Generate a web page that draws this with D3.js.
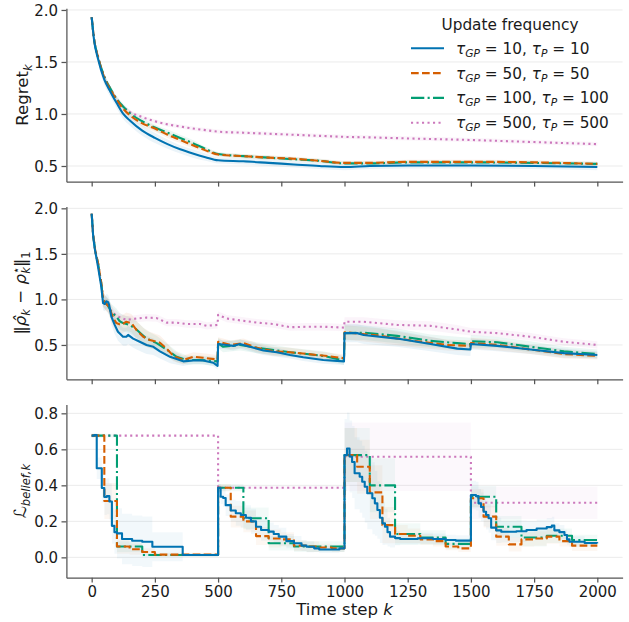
<!DOCTYPE html>
<html><head><meta charset="utf-8">
<script src="https://cdn.jsdelivr.net/npm/d3@7"></script>
<style>
body{margin:0;background:#fff}
svg{display:block}
text{font-family:"DejaVu Sans",sans-serif}
</style></head>
<body><svg id="c" width="629" height="622"></svg>
<script>
// ---------------- DATA ----------------
const xTicks = [0, 250, 500, 750, 1000, 1250, 1500, 1750, 2000];
const yTicksTop = [0.5, 1.0, 1.5, 2.0];
const yTicksMid = [0.5, 1.0, 1.5, 2.0];
const yTicksBottom = [0.0, 0.2, 0.4, 0.6, 0.8];
const seriesNames = ["10", "50", "100", "500"];

// Panel 1: regret
const regretK = [0,10,25,50,75,100,125,150,200,250,300,350,400,450,500,600,700,800,900,1000,1100,1250,1500,1750,2000];
const regret10  = [1.93,1.70,1.53,1.33,1.21,1.10,1.00,0.94,0.84,0.77,0.71,0.66,0.62,0.585,0.555,0.545,0.53,0.515,0.50,0.49,0.50,0.505,0.505,0.50,0.49];
const regret50  = [1.93,1.71,1.55,1.35,1.23,1.13,1.05,0.99,0.91,0.86,0.80,0.75,0.70,0.65,0.61,0.595,0.58,0.57,0.55,0.53,0.53,0.54,0.54,0.535,0.52];
const regret100 = [1.93,1.71,1.55,1.36,1.24,1.14,1.07,1.01,0.93,0.87,0.82,0.77,0.72,0.665,0.615,0.595,0.58,0.565,0.55,0.525,0.525,0.535,0.535,0.53,0.52];
const regret500 = [1.93,1.71,1.55,1.36,1.24,1.14,1.07,1.02,0.97,0.93,0.90,0.88,0.86,0.845,0.83,0.82,0.81,0.80,0.79,0.78,0.775,0.765,0.75,0.73,0.71];
const regretSd10  = [0.01,0.03,0.04,0.05,0.05,0.05,0.05,0.05,0.05,0.05,0.045,0.04,0.04,0.035,0.03,0.03,0.03,0.03,0.03,0.03,0.03,0.03,0.03,0.03,0.03];
const regretSd50  = [0.01,0.02,0.03,0.03,0.03,0.03,0.03,0.03,0.03,0.03,0.03,0.03,0.03,0.02,0.02,0.02,0.02,0.02,0.02,0.02,0.02,0.02,0.02,0.02,0.02];
const regretSd100 = [0.01,0.02,0.03,0.03,0.03,0.03,0.03,0.03,0.03,0.03,0.03,0.03,0.03,0.02,0.02,0.02,0.02,0.02,0.02,0.02,0.02,0.02,0.02,0.02,0.02];
const regretSd500 = [0.01,0.02,0.02,0.02,0.02,0.02,0.02,0.02,0.02,0.02,0.02,0.02,0.02,0.02,0.02,0.02,0.02,0.02,0.02,0.02,0.02,0.02,0.02,0.02,0.02];

// Panel 2: ||rho_hat - rho*||_1   [k, value, band half-width]
const rho10 = [[0,1.94,.02],[6,1.69,.04],[12,1.56,.05],[25,1.36,.06],[38,1.14,.07],[45,0.96,.08],[52,0.95,.08],[58,0.98,.08],[65,0.97,.08],[69,0.94,.08],[78,0.81,.09],[91,0.72,.1],[104,0.645,.1],[124,0.59,.1],[137,0.59,.1],[144,0.61,.1],[164,0.57,.1],[190,0.535,.1],[217,0.50,.1],[244,0.48,.09],[270,0.43,.08],[310,0.37,.07],[362,0.32,.05],[402,0.33,.04],[441,0.33,.04],[481,0.305,.04],[498,0.27,.04],[500,0.51,.05],[534,0.50,.05],[560,0.49,.05],[587,0.51,.05],[626,0.48,.05],[679,0.44,.05],[732,0.42,.05],[785,0.39,.04],[837,0.365,.04],[916,0.335,.04],[998,0.32,.04],[1000,0.63,.1],[1050,0.63,.1],[1076,0.61,.1],[1208,0.57,.09],[1340,0.51,.08],[1446,0.46,.07],[1498,0.45,.07],[1500,0.51,.06],[1604,0.49,.06],[1736,0.45,.05],[1868,0.41,.05],[2000,0.39,.04]];
const rho50 = [[0,1.94,.02],[6,1.70,.04],[15,1.52,.05],[25,1.40,.06],[38,1.18,.07],[45,1.0,.08],[55,0.96,.08],[65,0.93,.08],[78,0.85,.09],[88,0.78,.09],[98,0.74,.1],[117,0.72,.1],[137,0.755,.1],[157,0.74,.1],[177,0.665,.1],[204,0.59,.1],[230,0.555,.09],[270,0.525,.08],[296,0.46,.07],[323,0.38,.06],[362,0.335,.05],[402,0.37,.05],[441,0.36,.05],[498,0.34,.05],[500,0.535,.05],[550,0.50,.05],[600,0.52,.05],[653,0.47,.05],[719,0.43,.05],[785,0.42,.05],[890,0.39,.04],[943,0.375,.04],[998,0.355,.04],[1000,0.64,.08],[1142,0.60,.08],[1274,0.545,.07],[1406,0.50,.06],[1498,0.49,.06],[1500,0.52,.06],[1604,0.50,.06],[1736,0.45,.05],[1868,0.40,.05],[2000,0.38,.04]];
const rho100 = [[0,1.94,.02],[6,1.70,.04],[15,1.52,.05],[25,1.40,.06],[38,1.18,.07],[45,1.0,.08],[55,0.96,.08],[65,0.93,.08],[78,0.86,.09],[98,0.81,.09],[111,0.76,.09],[124,0.74,.09],[150,0.72,.09],[177,0.67,.09],[217,0.57,.09],[257,0.52,.08],[296,0.45,.07],[336,0.37,.06],[376,0.335,.05],[428,0.335,.05],[498,0.32,.05],[500,0.52,.06],[520,0.48,.06],[587,0.50,.06],[653,0.47,.06],[785,0.42,.05],[916,0.38,.05],[998,0.33,.05],[1000,0.63,.08],[1076,0.635,.08],[1208,0.60,.08],[1340,0.545,.07],[1446,0.52,.07],[1498,0.51,.07],[1500,0.54,.07],[1604,0.53,.06],[1736,0.48,.06],[1868,0.43,.05],[2000,0.40,.05]];
const rho500 = [[0,1.94,.02],[6,1.70,.04],[15,1.52,.05],[25,1.40,.06],[38,1.18,.07],[45,1.0,.07],[55,0.96,.07],[65,0.93,.07],[80,0.86,.06],[104,0.81,.05],[137,0.775,.04],[177,0.79,.04],[217,0.80,.04],[257,0.795,.04],[296,0.745,.04],[336,0.745,.04],[376,0.73,.04],[428,0.73,.04],[455,0.71,.04],[498,0.72,.04],[500,0.83,.04],[534,0.79,.04],[587,0.77,.04],[653,0.745,.04],[719,0.73,.04],[785,0.695,.04],[850,0.70,.04],[916,0.70,.04],[998,0.69,.04],[1000,0.755,.05],[1076,0.755,.05],[1208,0.72,.05],[1340,0.71,.05],[1446,0.67,.05],[1500,0.645,.04],[1604,0.63,.04],[1736,0.59,.04],[1868,0.535,.04],[2000,0.50,.04]];

// Panel 3: belief loss (step functions)  [k, value, band half-width]
const belief10 = [[0,.676,.01],[10,.68,.01],[20,.495,.06],[40,.385,.08],[50,.335,.1],[60,.34,.1],[70,.31,.1],[80,.175,.1],[90,.14,.12],[100,.133,.14],[120,.102,.14],[160,.092,.14],[200,.087,.14],[240,.059,.08],[360,.013,.01],[500,.387,.02],[510,.337,.04],[520,.33,.05],[530,.29,.06],[550,.26,.06],[570,.245,.07],[590,.235,.07],[610,.22,.07],[630,.20,.07],[650,.17,.06],[670,.152,.06],[700,.143,.05],[720,.13,.05],[740,.115,.05],[770,.09,.04],[800,.078,.04],[830,.065,.03],[850,.059,.03],[880,.05,.02],[900,.044,.02],[950,.044,.02],[980,.05,.02],[1000,.568,.2],[1010,.605,.2],[1020,.56,.2],[1030,.53,.2],[1040,.467,.2],[1060,.448,.2],[1070,.42,.2],[1080,.392,.2],[1090,.356,.2],[1110,.328,.2],[1120,.30,.18],[1130,.263,.16],[1140,.22,.14],[1150,.189,.12],[1160,.17,.1],[1170,.14,.08],[1180,.115,.06],[1200,.107,.04],[1220,.102,.03],[1290,.106,.03],[1350,.102,.03],[1400,.096,.03],[1440,.093,.03],[1500,.346,.08],[1520,.34,.08],[1530,.30,.08],[1540,.28,.08],[1550,.253,.08],[1560,.235,.08],[1570,.217,.08],[1580,.165,.07],[1600,.15,.07],[1620,.142,.06],[1680,.145,.06],[1720,.152,.05],[1760,.16,.05],[1800,.168,.05],[1820,.176,.05],[1830,.15,.04],[1850,.14,.04],[1870,.124,.03],[1880,.10,.03],[1890,.087,.03],[1950,.08,.02],[2000,.078,.02]];
const belief50 = [[0,.676,.01],[50,.313,.1],[100,.06,.04],[150,.045,.03],[200,.03,.02],[250,.015,.01],[500,.387,.02],[550,.226,.06],[600,.20,.06],[650,.118,.05],[700,.105,.05],[750,.10,.04],[800,.065,.03],[850,.06,.03],[900,.055,.02],[950,.05,.02],[1000,.568,.15],[1050,.503,.15],[1100,.361,.15],[1150,.179,.1],[1200,.13,.05],[1250,.12,.04],[1300,.10,.03],[1350,.09,.03],[1400,.06,.02],[1450,.05,.02],[1500,.328,.05],[1550,.226,.06],[1600,.115,.05],[1650,.072,.04],[1700,.10,.04],[1750,.105,.04],[1800,.115,.04],[1850,.09,.03],[1900,.065,.03],[2000,.065,.03]];
const belief100 = [[0,.676,.01],[100,.06,.03],[200,.013,.01],[500,.387,.02],[600,.217,.06],[700,.078,.04],[800,.06,.03],[1000,.568,.15],[1100,.40,.15],[1200,.13,.06],[1300,.11,.04],[1400,.075,.03],[1500,.337,.06],[1600,.17,.06],[1700,.11,.05],[1800,.12,.04],[1900,.096,.03],[2000,.096,.03]];
const belief500 = [[0,.676,.0],[500,.387,.01],[1000,.559,.19],[1500,.303,.09],[2000,.303,.09]];

// ---------------- STYLE ----------------
const colors = ["#0173b2", "#d55e00", "#029e73", "#cc78bc"];
const dashes = [null, "7.7,3.3", "13.3,3.3,2.1,3.3", "2.1,3.4"];

// ---------------- DRAW ----------------
const svg = d3.select("#c");
const X0 = 66.4, X1 = 622.6;
const x = d3.scaleLinear().domain([-100, 2100]).range([X0, X1]);

const panels = [
  {top: 8.3, bottom: 181.7, domain: [0.349, 2.016], ticks: yTicksTop, fmt: ".1f", curve: d3.curveMonotoneX, bandOpacity: 0.08,
   data: [d3.zip(regretK, regret10, regretSd10), d3.zip(regretK, regret50, regretSd50), d3.zip(regretK, regret100, regretSd100), d3.zip(regretK, regret500, regretSd500)], showX: false},
  {top: 206.5, bottom: 379.3, domain: [0.123, 2.02], ticks: yTicksMid, fmt: ".1f", curve: d3.curveLinear, bandOpacity: 0.08,
   data: [rho10, rho50, rho100, rho500], showX: false},
  {top: 404.5, bottom: 577.7, domain: [-0.113, 0.849], ticks: yTicksBottom, fmt: ".1f", curve: d3.curveStepAfter, bandOpacity: 0.05,
   data: [belief10, belief50, belief100, belief500], showX: true}
];

panels.forEach((p, pi) => {
  const y = d3.scaleLinear().domain(p.domain).range([p.bottom, p.top]);
  const g = svg.append("g");
  const clipId = "clip" + pi;
  svg.append("clipPath").attr("id", clipId).append("rect")
    .attr("x", X0).attr("y", p.top).attr("width", X1 - X0).attr("height", p.bottom - p.top);

  // grid
  g.append("g").selectAll("line").data(p.ticks).join("line")
    .attr("x1", X0).attr("x2", X1).attr("y1", d => y(d)).attr("y2", d => y(d))
    .attr("stroke", "#ebebeb").attr("stroke-width", 1);

  const plot = g.append("g").attr("clip-path", `url(#${clipId})`);
  const area = d3.area().x(d => x(d[0])).y0(d => y(d[1] - d[2])).y1(d => y(d[1] + d[2])).curve(p.curve);
  const line = d3.line().x(d => x(d[0])).y(d => y(d[1])).curve(p.curve);

  const order = [3, 2, 1, 0];
  order.forEach(i => {
    plot.append("path").attr("d", area(p.data[i])).attr("fill", colors[i]).attr("fill-opacity", p.bandOpacity).attr("stroke", "none");
  });
  order.forEach(i => {
    plot.append("path").attr("d", line(p.data[i])).attr("fill", "none")
      .attr("stroke", colors[i]).attr("stroke-width", 2.1)
      .attr("stroke-dasharray", dashes[i]).attr("stroke-linejoin", "round");
  });

  // axes
  const ya = g.append("g").attr("transform", `translate(${X0},0)`)
    .call(d3.axisLeft(y).tickValues(p.ticks).tickFormat(d3.format(p.fmt)).tickSize(4.9).tickPadding(3.5).tickSizeOuter(0));
  const xa = g.append("g").attr("transform", `translate(0,${p.bottom})`)
    .call(d3.axisBottom(x).tickValues(xTicks).tickSize(4.9).tickPadding(3.5).tickSizeOuter(0)
      .tickFormat(p.showX ? d3.format("d") : () => ""));
  [ya, xa].forEach(a => {
    a.select(".domain").attr("stroke", "#555").attr("stroke-width", 1.25);
    a.selectAll(".tick line").attr("stroke", "#555").attr("stroke-width", 1.25);
    a.selectAll("text").attr("font-size", "15px").attr("fill", "#1a1a1a").attr("font-family", "DejaVu Sans");
  });
  ya.selectAll("text").attr("dy", "0.36em");
});

// y labels
function ylabel(cy, bx, build) {
  const t = svg.append("text").attr("transform", `translate(${bx},${cy}) rotate(-90)`)
    .attr("text-anchor", "middle").attr("font-size", "16.6px").attr("fill", "#1a1a1a");
  build(t);
}
ylabel(95, 28, t => {
  t.append("tspan").text("Regret");
  t.append("tspan").attr("font-style", "italic").attr("font-size", "11.6px").attr("dy", 3.5).text("k");
});
ylabel(293, 26, t => {
  t.append("tspan").text("\u2016");
  t.append("tspan").attr("font-style", "italic").text("\u03C1\u0302");
  t.append("tspan").attr("font-style", "italic").attr("font-size", "11.6px").attr("dy", 3.5).text("k");
  t.append("tspan").attr("dy", -3.5).text(" \u2212 ");
  t.append("tspan").attr("font-style", "italic").text("\u03C1");
  t.append("tspan").attr("font-size", "11.6px").attr("dy", -6).text("\u22C6");
  t.append("tspan").attr("font-style", "italic").attr("font-size", "11.6px").attr("dx", -7).attr("dy", 9.5).text("k");
  t.append("tspan").attr("dy", -3.5).text("\u2016");
  t.append("tspan").attr("font-size", "11.6px").attr("dy", 3.5).text("1");
});
ylabel(491, 26, t => {
  t.append("tspan").attr("font-style", "italic").text("\u2112");
  t.append("tspan").attr("font-style", "italic").attr("font-size", "11.6px").attr("dy", 3.5).text("belief,k");
});

// x label
const xl = svg.append("text").attr("x", 344.5).attr("y", 615).attr("text-anchor", "middle")
  .attr("font-size", "16.6px").attr("fill", "#1a1a1a");
xl.append("tspan").text("Time step ");
xl.append("tspan").attr("font-style", "italic").text("k");

// legend
const lg = svg.append("g");
lg.append("text").attr("x", 510).attr("y", 30).attr("text-anchor", "middle")
  .attr("font-size", "15.3px").attr("fill", "#1a1a1a").text("Update frequency");
seriesNames.forEach((n, i) => {
  const cy = 48.3 + i * 24.8;
  lg.append("line").attr("x1", 411).attr("x2", 444).attr("y1", cy).attr("y2", cy)
    .attr("stroke", colors[i]).attr("stroke-width", 2.1).attr("stroke-dasharray", dashes[i]);
  const t = lg.append("text").attr("x", 456).attr("y", cy + 5.5).attr("font-size", "15.3px").attr("fill", "#1a1a1a");
  t.append("tspan").attr("font-style", "italic").text("\u03C4");
  t.append("tspan").attr("font-style", "italic").attr("font-size", "10.7px").attr("dy", 3).text("GP");
  t.append("tspan").attr("dy", -3).text(" = " + n + ",  ");
  t.append("tspan").attr("font-style", "italic").text("\u03C4");
  t.append("tspan").attr("font-style", "italic").attr("font-size", "10.7px").attr("dy", 3).text("P");
  t.append("tspan").attr("dy", -3).text(" = " + n);
});
</script>
</body></html>
